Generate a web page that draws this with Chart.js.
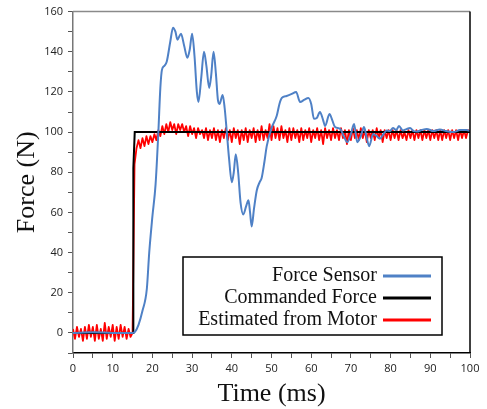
<!DOCTYPE html>
<html>
<head>
<meta charset="utf-8">
<script src="https://cdn.jsdelivr.net/npm/chart.js@4/dist/chart.umd.min.js"></script>
<style>
  body { margin: 0; background: #fff; }
  canvas { display: block; }
</style>
</head>
<body>
<canvas id="graph" width="487" height="409"></canvas>
<script>
// Force sensor (smooth trace)
var sensorTime = [0, 5, 10, 15, 15.6, 16.5, 17.5, 18.6, 19.2, 20.0, 20.8, 21.5, 22.0, 22.4, 23.0, 23.6, 24.5, 25.2, 25.8, 26.3,
    27.2, 28.0, 28.8, 29.4, 30.0, 30.6, 31.2, 31.6, 32.3, 33.0, 33.6, 34.3, 34.8, 35.4, 36.0, 36.5, 36.9, 37.7, 38.2, 38.7,
    39.3, 40.0, 40.5, 41.0, 41.6, 42.2, 42.9, 43.6, 44.2, 44.6, 45.0, 45.6, 46.3, 47.0, 47.5, 48.2, 48.8, 50.0, 51.3, 52.0,
    52.6, 53.8, 55.1, 56.2, 57.2, 58.2, 59.3, 60.0, 60.7, 61.4, 62.2, 63.0, 63.5, 64.6, 65.3, 66.0, 67.3, 68.2, 69.1, 70.0,
    70.8, 71.6, 72.5, 73.3, 74.0, 74.6, 75.6, 76.5, 77.3, 78.2, 79.0, 79.8, 80.6, 81.4, 82.1, 83.1, 84.0, 84.9, 85.8, 86.6,
    87.8, 89.1, 90.8, 92.4, 94.0, 95.8, 97.5, 99.1, 100];
var sensorForce = [0, 0.3, 0, 0, 0.5, 4, 11, 22, 40, 58, 74, 100, 122, 131, 133, 135, 145, 152, 150, 146,
    149, 143, 137, 141, 149, 138, 120, 115, 127, 140, 133, 122, 128, 140, 129, 116, 114, 118.5, 112, 101,
    87, 75, 80, 89, 80, 65, 59, 63, 66, 60, 53, 62, 71, 75, 77, 85, 93, 102, 108, 114,
    117, 118, 119, 120, 115, 116, 117, 114, 106.6, 107, 110, 106, 103, 109, 106, 102.5, 101.6, 98, 95, 99,
    104, 95, 98, 102.5, 97, 93, 99, 98, 96.7, 99, 100.8, 100.5, 102, 101, 103, 100.8, 101.5, 102, 100.5, 100.3,
    101, 101.6, 100.5, 101.3, 100.5, 100, 101, 101, 100.5];

// Commanded step
var commandTime = [0, 15.15, 15.2, 15.55, 100];
var commandForce = [0, 0, 82, 100, 100];

// Estimated from motor (noisy trace)
var motorTime = [
    0, 0.5, 1, 1.5, 2, 2.5, 3, 3.5, 4, 4.5, 5, 5.5, 6, 6.5, 7, 7.5, 8, 8.5, 9, 9.5,
    10, 10.5, 11, 11.5, 12, 12.5, 13, 13.5, 14, 14.5, 15, 15.5, 16, 16.5, 17, 17.5, 18, 18.5, 19, 19.5,
    20, 20.5, 21, 21.5, 22, 22.5, 23, 23.5, 24, 24.5, 25, 25.5, 26, 26.5, 27, 27.5, 28, 28.5, 29, 29.5,
    30, 30.5, 31, 31.5, 32, 32.5, 33, 33.5, 34, 34.5, 35, 35.5, 36, 36.5, 37, 37.5, 38, 38.5, 39, 39.5,
    40, 40.5, 41, 41.5, 42, 42.5, 43, 43.5, 44, 44.5, 45, 45.5, 46, 46.5, 47, 47.5, 48, 48.5, 49, 49.5,
    50, 50.5, 51, 51.5, 52, 52.5, 53, 53.5, 54, 54.5, 55, 55.5, 56, 56.5, 57, 57.5, 58, 58.5, 59, 59.5,
    60, 60.5, 61, 61.5, 62, 62.5, 63, 63.5, 64, 64.5, 65, 65.5, 66, 66.5, 67, 67.5, 68, 68.5, 69, 69.5,
    70, 70.5, 71, 71.5, 72, 72.5, 73, 73.5, 74, 74.5, 75, 75.5, 76, 76.5, 77, 77.5, 78, 78.5, 79, 79.5,
    80, 80.5, 81, 81.5, 82, 82.5, 83, 83.5, 84, 84.5, 85, 85.5, 86, 86.5, 87, 87.5, 88, 88.5, 89, 89.5,
    90, 90.5, 91, 91.5, 92, 92.5, 93, 93.5, 94, 94.5, 95, 95.5, 96, 96.5, 97, 97.5, 98, 98.5, 99, 99.5,
    100];
var motorForce = [
    2, -3, 3, -2, 2, -4, 3, -3, 4, -2, 3, -4, 4, -3, 2, -4, 5, -3, 3, -2,
    4, -4, 3, -3, 4, -2, 3, -3, 2, -2, 0,
    84, 92, 96, 92, 97, 93, 98, 94, 98, 95,
    99, 96, 101, 98, 103, 99, 104, 100, 105, 101,
    104, 99, 104, 101, 104, 100, 103, 98, 103, 99,
    102, 97, 102, 99, 101, 97, 102, 96, 101, 97,
    102, 96, 101, 95, 101, 97, 102, 96, 101, 95,
    102, 97, 101, 94, 101, 96, 102, 95, 101, 97,
    102, 95, 101, 96, 103, 96, 101, 97, 104, 96,
    103, 97, 102, 96, 103, 97, 101, 95, 102, 96,
    102, 97, 101, 95, 102, 96, 101, 97, 102, 95,
    101, 97, 102, 96, 101, 94, 102, 97, 101, 96,
    102, 97, 101, 96, 102, 97, 101, 94, 101, 96,
    102, 97, 101, 96, 102, 97, 101, 95, 101, 97,
    101, 96, 102, 97, 101, 95, 101, 97, 101, 96,
    101, 97, 101, 96, 101, 97, 100, 96, 101, 97,
    101, 96, 101, 97, 101, 96, 101, 97, 101, 96,
    101, 97, 101, 96, 101, 96, 101, 97, 101, 96,
    101, 97, 101, 96, 101, 97, 101, 97, 101, 100];

var seriesNames = ['Force Sensor', 'Commanded Force', 'Estimated from Motor'];
var seriesColors = ['#4f81c6', '#000000', '#ff0000'];

function toPoints(xs, ys) {
    var pts = [];
    for (var i = 0; i < xs.length; i++) {
        pts.push({x: xs[i], y: ys[i]});
    }
    return pts;
}

var serif = "'Liberation Serif', 'Times New Roman', serif";
var sans = "'Open Sans', 'DejaVu Sans', sans-serif";

// top/right frame and the boxed legend (line sample on the right of the text)
var frameAndLegend = {
    id: 'frameAndLegend',
    afterDraw: function(chart) {
        var ctx = chart.ctx;
        var area = chart.chartArea;
        ctx.save();
        ctx.lineWidth = 1.5;
        ctx.strokeStyle = '#8a8a8a';
        ctx.beginPath();
        ctx.moveTo(area.left, area.top);
        ctx.lineTo(area.right, area.top);
        ctx.stroke();
        ctx.strokeStyle = '#000';
        ctx.beginPath();
        ctx.moveTo(area.right, area.top);
        ctx.lineTo(area.right, area.bottom);
        ctx.stroke();

        var bx = 183, by = 257, bw = 259, bh = 78;
        ctx.fillStyle = '#fff';
        ctx.fillRect(bx, by, bw, bh);
        ctx.lineWidth = 1.5;
        ctx.strokeStyle = '#000';
        ctx.strokeRect(bx, by, bw, bh);

        ctx.font = '20px ' + serif;
        ctx.textAlign = 'right';
        ctx.textBaseline = 'middle';
        var rows = [276, 298, 320];
        chart.data.datasets.forEach(function(ds, i) {
            ctx.fillStyle = '#111';
            ctx.fillText(ds.label, 377, rows[i]);
            ctx.strokeStyle = ds.borderColor;
            ctx.lineWidth = 3;
            ctx.beginPath();
            ctx.moveTo(383, rows[i]);
            ctx.lineTo(431, rows[i]);
            ctx.stroke();
        });
        ctx.restore();
    }
};

var ctx = document.getElementById('graph').getContext('2d');
var chart = new Chart(ctx, {
    type: 'line',
    data: {
        datasets: [
            {
                label: seriesNames[0],
                data: toPoints(sensorTime, sensorForce),
                borderColor: seriesColors[0],
                borderWidth: 2,
                borderJoinStyle: 'round',
                pointRadius: 0,
                cubicInterpolationMode: 'monotone'
            },
            {
                label: seriesNames[1],
                data: toPoints(commandTime, commandForce),
                borderColor: seriesColors[1],
                borderWidth: 2,
                pointRadius: 0,
                tension: 0
            },
            {
                label: seriesNames[2],
                data: toPoints(motorTime, motorForce),
                borderColor: seriesColors[2],
                borderWidth: 1.8,
                borderJoinStyle: 'round',
                pointRadius: 0,
                tension: 0
            }
        ]
    },
    options: {
        responsive: false,
        animation: false,
        layout: { padding: { left: 0, right: 17, top: 7, bottom: 0 } },
        plugins: {
            legend: { display: false },
            tooltip: { enabled: false }
        },
        scales: {
            x: {
                type: 'linear',
                min: 0,
                max: 100,
                afterFit: function(scale) { scale.height = 56; },
                grid: { drawOnChartArea: false, drawTicks: true, tickLength: 5, color: '#555' },
                border: { color: '#000', width: 1.5 },
                ticks: {
                    stepSize: 5,
                    autoSkip: false,
                    maxRotation: 0,
                    padding: 4,
                    color: '#222',
                    font: { family: sans, size: 11 },
                    callback: function(v) { return v % 10 === 0 ? v : ''; }
                },
                title: {
                    display: true,
                    text: 'Time (ms)',
                    color: '#111',
                    font: { family: serif, size: 26, lineHeight: 1 },
                    padding: { top: 0, bottom: 2 }
                }
            },
            y: {
                min: -10,
                max: 160,
                afterFit: function(scale) { scale.width = 73; },
                grid: { drawOnChartArea: false, drawTicks: true, tickLength: 5, color: '#555' },
                border: { color: '#777', width: 1.5 },
                ticks: {
                    stepSize: 10,
                    autoSkip: false,
                    padding: 5,
                    color: '#222',
                    font: { family: sans, size: 11 },
                    callback: function(v) { return v % 20 === 0 ? v : ''; }
                },
                title: {
                    display: true,
                    text: 'Force (N)',
                    color: '#111',
                    font: { family: serif, size: 26, lineHeight: 1 },
                    padding: { top: 14, bottom: 0 }
                }
            }
        }
    },
    plugins: [frameAndLegend]
});
</script>
</body>
</html>
